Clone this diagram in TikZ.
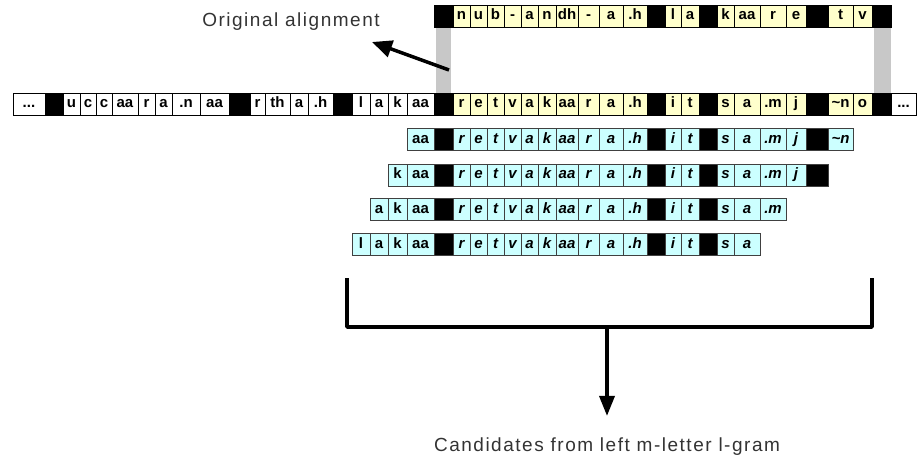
\documentclass[tikz,border=0pt]{standalone}
\usepackage{fontspec}
\usetikzlibrary{arrows.meta}
\newfontfamily\cellfont{Liberation Sans}
\newfontfamily\labfont[LetterSpace=8]{Liberation Sans}
\definecolor{ycell}{HTML}{FFFFCC}
\definecolor{ccell}{HTML}{CCFFFF}
\definecolor{gbar}{HTML}{C8C8C8}
\definecolor{labc}{HTML}{333333}
\newcommand\tdots{.{}.{}.}
\tikzset{
  cell/.style={draw=black, line width=0.8pt, inner sep=0pt, minimum height=22pt,
    text height=11pt, text depth=3pt, font=\cellfont\bfseries\fontsize{15}{17}\selectfont},
  wc/.style={fill=white},
  yc/.style={fill=ycell},
  bk/.style={fill=black},
  cc/.style={fill=ccell, draw=black!75},
  cb/.style={cc, fill=black},
  ci/.style={cc, font=\cellfont\bfseries\itshape\fontsize{15}{17}\selectfont},
  lab/.style={font=\labfont\fontsize{19}{22}\selectfont, text=labc, inner sep=0pt},
  thick line/.style={line width=3.5pt},
}
\newcommand\cellrow[3]{%
  \foreach \xa/\xb/\txt/\kind in #3 {%
    \pgfmathsetmacro\cw{\xb-\xa}%
    \pgfmathsetmacro\cx{(\xa+\xb)/2}%
    \node[cell,\kind,minimum width=\cw pt] (#2-\xa) at (\cx,#1) {\txt};
  }}
\def\mainL{13/45/{\tdots}/wc, 45/63/{}/bk, 63/80/u/wc, 80/96/c/wc, 96/112/c/wc, 112/138/aa/wc, 138/155/r/wc, 155/172/a/wc, 172/200/.n/wc, 200/229/aa/wc, 229/250/{}/bk, 250/265/r/wc, 265/290/th/wc, 290/308/a/wc, 308/333/.h/wc, 333/352/{}/bk, 352/370/l/wc, 370/388/a/wc, 388/407/k/wc, 407/434/aa/wc}
\def\mainY{434/453/{}/bk, 453/470/r/yc, 470/487/e/yc, 487/504/t/yc, 504/521/v/yc, 521/538/a/yc, 538/556/k/yc, 556/578/aa/yc, 578/599/r/yc, 599/623/a/yc, 623/647/.h/yc, 647/665/{}/bk, 665/681/i/yc, 681/699/t/yc, 699/717/{}/bk, 717/734/s/yc, 734/760/a/yc, 760/786/.m/yc, 786/806/j/yc, 806/828/{}/bk, 828/853/{\textasciitilde n}/yc, 853/872/o/yc, 872/891/{}/bk, 891/916/{\tdots}/wc}
\def\topY{434/453/{}/bk, 453/470/n/yc, 470/487/u/yc, 487/504/b/yc, 504/521/-/yc, 521/538/a/yc, 538/556/n/yc, 556/578/dh/yc, 578/599/-/yc, 599/623/a/yc, 623/647/.h/yc, 647/665/{}/bk, 665/681/l/yc, 681/699/a/yc, 699/717/{}/bk, 717/734/k/yc, 734/760/aa/yc, 760/786/r/yc, 786/806/e/yc, 806/828/{}/bk, 828/853/t/yc, 853/872/v/yc, 872/891/{}/bk}
\def\candMid{434/453/{}/cb, 453/470/r/ci, 470/487/e/ci, 487/504/t/ci, 504/521/v/ci, 521/538/a/ci, 538/556/k/ci, 556/578/aa/ci, 578/599/r/ci, 599/623/a/ci, 623/647/.h/ci, 647/665/{}/cb, 665/681/i/ci, 681/699/t/ci, 699/717/{}/cb, 717/734/s/ci, 734/760/a/ci}
\def\candAL{407/434/aa/cc}
\def\candAT{760/786/.m/ci, 786/806/j/ci, 806/828/{}/cb, 828/853/{\textasciitilde n}/ci}
\def\candBL{388/407/k/cc, 407/434/aa/cc}
\def\candBT{760/786/.m/ci, 786/806/j/ci, 806/828/{}/cb}
\def\candCL{370/388/a/cc, 388/407/k/cc, 407/434/aa/cc}
\def\candCT{760/786/.m/ci}
\def\candDL{352/370/l/cc, 370/388/a/cc, 388/407/k/cc, 407/434/aa/cc}
\begin{document}
\begin{tikzpicture}[x=1pt,y=-1pt]
\path[use as bounding box] (0,0) rectangle (920,462);
% grey connection bars
\fill[gbar] (436,24) rectangle (451,95);
\fill[gbar] (874,24) rectangle (891,95);
% rows
\cellrow{16}{t}{\topY}
\cellrow{104}{m}{\mainL}
\cellrow{104}{m}{\mainY}
\cellrow{139.5}{a}{\candAL}
\cellrow{139.5}{a}{\candMid}
\cellrow{139.5}{a}{\candAT}
\cellrow{175}{b}{\candBL}
\cellrow{175}{b}{\candMid}
\cellrow{175}{b}{\candBT}
\cellrow{209.5}{c}{\candCL}
\cellrow{209.5}{c}{\candMid}
\cellrow{209.5}{c}{\candCT}
\cellrow{244}{d}{\candDL}
\cellrow{244}{d}{\candMid}
% labels
\node[lab] (orig) at (291,22) {Original alignment};
\coordinate (oaTail) at (449,70);
\coordinate (oaTip) at (372,42);
\draw[thick line, -{Triangle[length=20pt,width=17pt]}] (oaTail) -- (oaTip);
% bracket
\coordinate (bl) at (347,278);
\coordinate (br) at (872,278);
\coordinate (bm) at (607,327);
\draw[thick line, line join=round] (bl) |- (bm) -| (br);
\node[lab] (cand) at (607,447) {Candidates from left m-letter l-gram};
\draw[thick line, -{Triangle[length=20pt,width=15pt]}, shorten >=22pt] (bm) -- (cand);
\end{tikzpicture}
\end{document}
